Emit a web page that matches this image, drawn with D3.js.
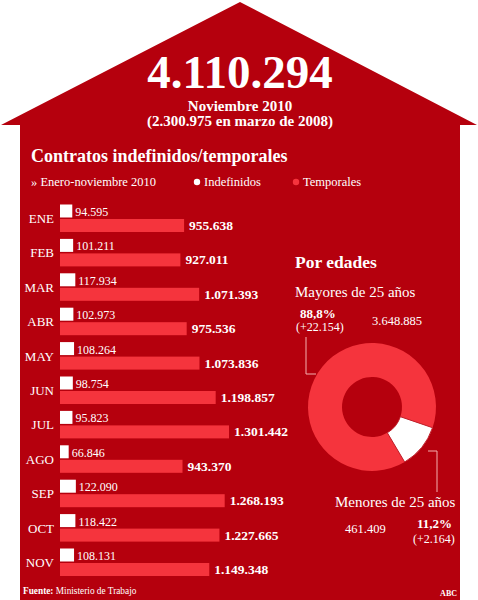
<!DOCTYPE html>
<html>
<head>
<meta charset="utf-8">
<script src="https://cdn.jsdelivr.net/npm/d3@7"></script>
<style>
  body { margin: 0; background: #fff; }
  svg { display: block; }
  text { font-family: "Liberation Serif", "DejaVu Serif", serif; fill: #fff; }
</style>
</head>
<body>
<div id="chart"></div>
<script>
// data
var total = 4110294;
var months = ["ENE", "FEB", "MAR", "ABR", "MAY", "JUN", "JUL", "AGO", "SEP", "OCT", "NOV"];
var indefinidos = [94595, 101211, 117934, 102973, 108264, 98754, 95823, 66846, 122090, 118422, 108131];
var temporales = [955638, 927011, 1071393, 975536, 1073836, 1198857, 1301442, 943370, 1268193, 1227665, 1149348];
var edadLabels = ["Mayores de 25 años", "Menores de 25 años"];
var edadValues = [3648885, 461409];
var edadPct = ["88,8%", "11,2%"];
var edadDelta = ["(+22.154)", "(+2.164)"];

var fmt = d3.formatLocale({ decimal: ",", thousands: ".", grouping: [3] }).format(",d");

var width = 478, height = 600;
var bg = "#b5000d", bright = "#f5343d";

var svg = d3.select("#chart").append("svg")
  .attr("width", width)
  .attr("height", height);

// house shape
svg.append("path")
  .attr("d", "M240,2 L477,125 L460,125 L460,600 L20,600 L20,125 L1,125 Z")
  .attr("fill", bg);

// header
svg.append("text")
  .attr("x", 240).attr("y", 88)
  .attr("text-anchor", "middle")
  .attr("font-weight", "bold")
  .attr("font-size", 47)
  .text(fmt(total));

svg.append("text")
  .attr("x", 240).attr("y", 111)
  .attr("text-anchor", "middle")
  .attr("font-weight", "bold")
  .attr("font-size", 15)
  .text("Noviembre 2010");
svg.append("text")
  .attr("x", 240).attr("y", 126)
  .attr("text-anchor", "middle")
  .attr("font-weight", "bold")
  .attr("font-size", 15)
  .text("(2.300.975 en marzo de 2008)");

svg.append("text")
  .attr("x", 31).attr("y", 162)
  .attr("font-weight", "bold")
  .attr("font-size", 18)
  .text("Contratos indefinidos/temporales");

// legend
svg.append("text")
  .attr("x", 31).attr("y", 186)
  .attr("font-size", 12.5)
  .text("» Enero-noviembre 2010");
svg.append("circle").attr("cx", 197).attr("cy", 182).attr("r", 3.2).attr("fill", "#fff");
svg.append("text").attr("x", 204).attr("y", 186).attr("font-size", 12.5).text("Indefinidos");
svg.append("circle").attr("cx", 296).attr("cy", 182).attr("r", 3.2).attr("fill", bright);
svg.append("text").attr("x", 303).attr("y", 186).attr("font-size", 12.5).text("Temporales");

// bars
var x = d3.scaleLinear()
  .domain([0, 1301442])
  .range([60, 229]);

var y = d3.scaleBand()
  .domain(months)
  .range([204.5, 204.5 + 34.4 * months.length]);

var rows = svg.append("g")
  .selectAll(".row")
  .data(months)
  .enter()
  .append("g")
  .attr("class", "row")
  .attr("transform", d => "translate(0," + y(d) + ")");

rows.append("rect")
  .attr("x", x(0))
  .attr("y", 0)
  .attr("width", (d, i) => x(indefinidos[i]) - x(0))
  .attr("height", 13)
  .attr("fill", "#fff");

rows.append("rect")
  .attr("x", x(0))
  .attr("y", 14.5)
  .attr("width", (d, i) => x(temporales[i]) - x(0))
  .attr("height", 13)
  .attr("fill", bright);

rows.append("text")
  .attr("x", 54)
  .attr("y", 18.5)
  .attr("text-anchor", "end")
  .attr("font-size", 13)
  .text(d => d);

rows.append("text")
  .attr("x", (d, i) => x(indefinidos[i]) + 3)
  .attr("y", 11.5)
  .attr("font-size", 12)
  .text((d, i) => fmt(indefinidos[i]));

rows.append("text")
  .attr("x", (d, i) => x(temporales[i]) + 5)
  .attr("y", 25.5)
  .attr("font-weight", "bold")
  .attr("font-size", 13.5)
  .text((d, i) => fmt(temporales[i]));

// donut
var cx = 372, cy = 407;
var pie = d3.pie()
  .sort(null)
  .startAngle(149.3 * Math.PI / 180)
  .endAngle(149.3 * Math.PI / 180 + 2 * Math.PI);
var arc = d3.arc().innerRadius(30).outerRadius(64);

svg.append("g")
  .attr("transform", "translate(" + cx + "," + cy + ")")
  .selectAll("path")
  .data(pie(edadValues))
  .enter()
  .append("path")
  .attr("d", arc)
  .attr("fill", (d, i) => i === 0 ? bright : "#fff")
  .attr("stroke", (d, i) => i === 0 ? "none" : "#c0202a")
  .attr("stroke-width", 1);

svg.append("text")
  .attr("x", 295).attr("y", 268)
  .attr("font-weight", "bold")
  .attr("font-size", 17.5)
  .text("Por edades");

svg.append("text")
  .attr("x", 295).attr("y", 297)
  .attr("font-size", 15)
  .text(edadLabels[0]);
svg.append("text")
  .attr("x", 300).attr("y", 318)
  .attr("font-weight", "bold")
  .attr("font-size", 13)
  .text(edadPct[0]);
svg.append("text")
  .attr("x", 296).attr("y", 331)
  .attr("font-size", 12)
  .text(edadDelta[0]);
svg.append("text")
  .attr("x", 372).attr("y", 325)
  .attr("font-size", 12.5)
  .text(fmt(edadValues[0]));

svg.append("text")
  .attr("x", 335).attr("y", 507)
  .attr("font-size", 15)
  .text(edadLabels[1]);
svg.append("text")
  .attr("x", 345).attr("y", 533)
  .attr("font-size", 12.5)
  .text(fmt(edadValues[1]));
svg.append("text")
  .attr("x", 417).attr("y", 528)
  .attr("font-weight", "bold")
  .attr("font-size", 13)
  .text(edadPct[1]);
svg.append("text")
  .attr("x", 413).attr("y", 543)
  .attr("font-size", 12)
  .text(edadDelta[1]);

// leader lines
svg.append("path")
  .attr("d", "M306,337 L306,374 L316,374")
  .attr("fill", "none")
  .attr("stroke", "#f4b0b0")
  .attr("stroke-width", 1);
svg.append("path")
  .attr("d", "M428,451 L437,451 L437,492")
  .attr("fill", "none")
  .attr("stroke", "#f4b0b0")
  .attr("stroke-width", 1);

// footer
var foot = svg.append("text")
  .attr("x", 23).attr("y", 594)
  .attr("font-size", 9.3);
foot.append("tspan").attr("font-weight", "bold").text("Fuente:");
foot.append("tspan").text(" Ministerio de Trabajo");

svg.append("text")
  .attr("x", 457).attr("y", 596)
  .attr("text-anchor", "end")
  .attr("font-weight", "bold")
  .attr("font-size", 8)
  .text("ABC");
</script>
</body>
</html>
